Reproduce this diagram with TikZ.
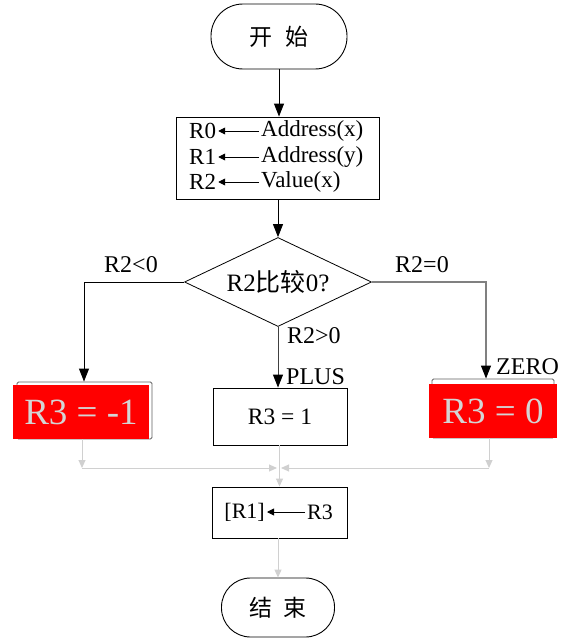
\documentclass[tikz,border=0pt]{standalone}
\usepackage{fontspec}
\setmainfont{Liberation Serif}
\newfontfamily\cjk{Noto Sans CJK SC}
\usetikzlibrary{arrows.meta,shapes.geometric}
\definecolor{boxred}{HTML}{FF0000}
\definecolor{lighttxt}{HTML}{D4D4D4}
\definecolor{mergegray}{HTML}{D0D0D0}
\definecolor{edgegray}{HTML}{808080}
\definecolor{midgray}{HTML}{404040}
\definecolor{outlinegray}{HTML}{606060}
\begin{document}
\begin{tikzpicture}[x=1pt,y=-1pt,
  txt/.style={inner sep=2pt,font=\fontsize{23}{25}\selectfont},
  lab/.style={inner sep=1pt,font=\fontsize{24}{26}\selectfont},
  term/.style={draw,line width=0.9pt,rectangle,inner sep=0pt},
  proc/.style={draw,line width=0.9pt,rectangle,inner sep=0pt},
  flow/.style={line width=0.9pt,-{Triangle[length=13pt,width=10pt]}},
  innerarrow/.style={line width=0.9pt,-{Triangle[length=7pt,width=7pt]}},
  merge/.style={draw=mergegray,line width=1pt,-{Triangle[length=8pt,width=7pt,color=mergegray]}},
  redbox/.style={fill=boxred,inner sep=0pt,text=lighttxt,font=\fontsize{37}{39}\selectfont},
  backbox/.style={draw=outlinegray,line width=0.9pt,rounded corners=1.5pt,inner sep=0pt}]
\useasboundingbox (0,0) rectangle (565,642);

% start
\node[term,minimum width=136pt,minimum height=65pt,rounded corners=32pt,font=\fontsize{23}{25}\selectfont] (start) at (279,36.5) {\cjk 开\hspace{14pt}始};

% init box
\node[proc,minimum width=203pt,minimum height=82pt] (init) at (278,158) {};
\node[txt,anchor=west] (r0) at (187,131) {R0};
\node[txt,anchor=west] (a0) at (259,131) {Address(x)};
\node[txt,anchor=west] (r1) at (187,157) {R1};
\node[txt,anchor=west] (a1) at (259,157) {Address(y)};
\node[txt,anchor=west] (r2) at (187,182) {R2};
\node[txt,anchor=west] (a2) at (259,182) {Value(x)};
\draw[innerarrow] (a0.west) -- (r0.east);
\draw[innerarrow] (a1.west) -- (r1.east);
\draw[innerarrow] (a2.west) -- (r2.east);

\draw[flow] (start.south) -- (start.south |- init.north);

% decision
\node[draw,diamond,aspect=2.1,minimum width=187pt,minimum height=89pt,inner sep=0pt,line width=0.8pt,font=\fontsize{25}{27}\selectfont] (dec) at (278,282) {R2{\cjk 比较}0?};
\draw[flow] (dec.north |- init.south) -- (dec.north);

% left branch
\node[backbox,minimum width=135pt,minimum height=57pt] (lbk) at (84.5,410.5) {};
\node[redbox,minimum width=136pt,minimum height=54pt] (lred) at (81,412) {R3 = -1};
\coordinate (lturn) at (84,282);
\draw[flow] (dec.west) -- (lturn) -- (lturn |- lbk.north);
\node[lab] (lneg) at (131,265) {R2<0};

% right branch
\node[backbox,minimum width=122pt,minimum height=59pt] (rbk) at (493,408.5) {};
\node[redbox,minimum width=128pt,minimum height=54pt] (rred) at (493,411) {R3 = 0};
\coordinate (rturn) at (486,282);
\draw[draw=edgegray,line width=1.1pt,-{Triangle[length=13pt,width=10pt,color=black]}] (dec.east) -- (rturn) -- (rturn |- rbk.north);
\node[lab] (lzero) at (422,265) {R2=0};
\node[lab,anchor=west] (lzr) at (495,367) {ZERO};

% middle branch
\node[proc,minimum width=134pt,minimum height=57pt,font=\fontsize{23.5}{25}\selectfont] (mid) at (280,416.5) {R3 = 1};
\draw[draw=midgray,line width=0.9pt,-{Triangle[length=13pt,width=10pt,color=black]}] (dec.south) -- (dec.south |- mid.north);
\node[lab,anchor=west] (lpos) at (286,336) {R2>0};
\node[lab,anchor=west] (lplus) at (285,377) {PLUS};

% merge
\coordinate (ml) at (82,468);
\coordinate (mr) at (489,468);
\coordinate (mcl) at (277,468);
\coordinate (mcr) at (281,468);
\draw[merge] (lred.south -| ml) -- (ml);
\draw[merge] (ml) -- (mcl);
\draw[merge] (rred.south -| mr) -- (mr);
\draw[merge] (mr) -- (mcr);

% store box
\node[proc,minimum width=135pt,minimum height=51pt] (r1box) at (279.5,512.5) {};
\node[txt,anchor=east,font=\fontsize{22}{24}\selectfont] (r1l) at (267,512) {[R1]};
\node[txt,anchor=west,font=\fontsize{22}{24}\selectfont] (r1r) at (305,512) {R3};
\draw[innerarrow] (r1r.west) -- (r1l.east);
\draw[merge] (mid.south -| r1box.north) -- (r1box.north);

% end
\node[term,minimum width=113pt,minimum height=59pt,rounded corners=29pt,font=\fontsize{23}{25}\selectfont] (stop) at (278,607.5) {\cjk 结\hspace{12pt}束};
\draw[merge] (r1box.south -| stop.north) -- (stop.north);
\end{tikzpicture}
\end{document}
